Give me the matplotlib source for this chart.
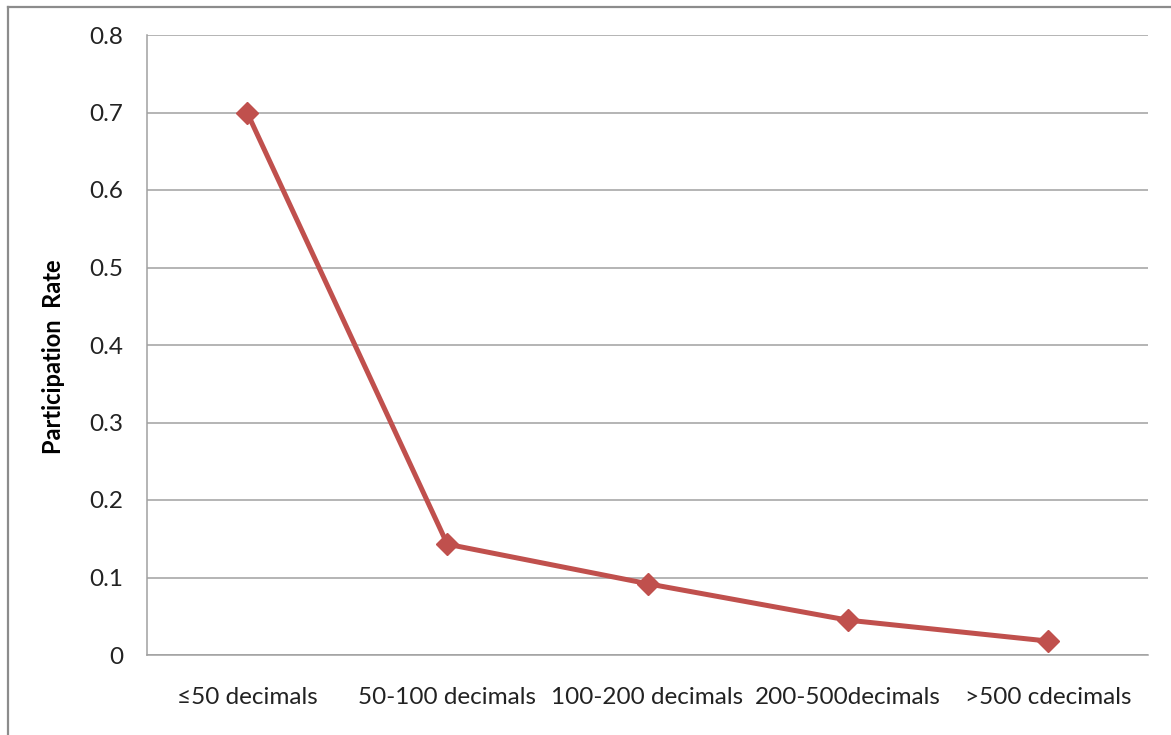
import matplotlib
matplotlib.use('Agg')
import matplotlib.pyplot as plt
from matplotlib.lines import Line2D

categories = ['\u226450 decimals', '50-100 decimals', '100-200 decimals',
              '200-500decimals', '>500 cdecimals']
rates = [0.70, 0.143, 0.092, 0.045, 0.018]

plt.rcParams['font.family'] = ['Lato', 'DejaVu Sans']

fig = plt.figure(figsize=(11.71, 7.35), dpi=100)
ax = fig.add_axes([147 / 1171, 1 - 655 / 735, 1001 / 1171, 620 / 735])

x = list(range(len(categories)))
ax.plot(x, rates, color='#C0504D', lw=3.6, marker='D', ms=11, zorder=3)

ax.set_xlim(-0.5, len(categories) - 0.5)
ax.set_ylim(0, 0.8)
ax.set_yticks([i / 10 for i in range(9)])
ax.set_yticklabels(['0'] + ['%.1f' % (i / 10) for i in range(1, 9)])
ax.set_xticks(x)
ax.set_xticklabels(categories)
ax.tick_params(axis='both', length=0, labelsize=17.5, colors='#222222')
ax.tick_params(axis='y', pad=17)
ax.tick_params(axis='x', pad=23)

ax.grid(axis='y', color='#A0A0A0', lw=1.1)
ax.set_axisbelow(True)
for side in ['top', 'right']:
    ax.spines[side].set_visible(False)
for side in ['left', 'bottom']:
    ax.spines[side].set_color('#A0A0A0')
    ax.spines[side].set_linewidth(1.1)

ax.set_ylabel('Participation  Rate', fontsize=17, fontweight='bold')
ax.yaxis.set_label_coords(-0.082, 0.481)

# outer chart border (left and top edges visible)
fig.add_artist(Line2D([7.5 / 1171, 7.5 / 1171], [0, 1 - 6.5 / 735],
                      transform=fig.transFigure, color='#8C8C8C', lw=1.6))
fig.add_artist(Line2D([7.5 / 1171, 1], [1 - 6.5 / 735, 1 - 6.5 / 735],
                      transform=fig.transFigure, color='#8C8C8C', lw=1.6))

fig.savefig('out.png', dpi=100)
